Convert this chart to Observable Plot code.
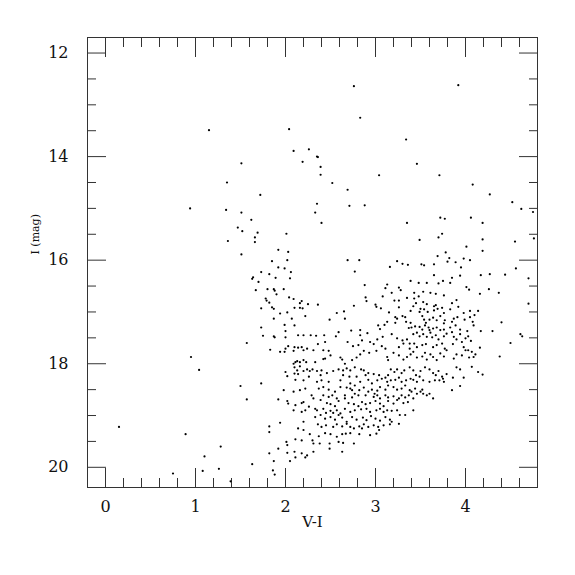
<!DOCTYPE html>
<html><head><meta charset="utf-8">
<script src="https://cdn.jsdelivr.net/npm/d3@7"></script>
<script src="https://cdn.jsdelivr.net/npm/@observablehq/plot@0.6"></script>
<style>body{margin:0;background:#fff;}</style>
</head><body><div id="chart"></div>
<script>
// [V-I, I] pairs
const brightStars = [[1.15,13.49],[1.51,14.13],[1.35,14.50],[2.76,12.64],[2.83,13.25],[2.04,13.47],[3.34,13.67],[2.09,13.89],[2.26,13.86],[2.35,14.00],[2.36,14.01],[2.19,14.10],[2.39,14.20],[2.39,14.35],[3.04,14.36],[2.52,14.51],[2.69,14.64],[3.92,12.62],[3.46,14.14],[3.71,14.36],[4.08,14.54],[0.94,15.00],[1.34,15.03],[1.51,15.08],[1.47,15.37],[1.52,15.44],[1.36,15.63],[1.51,15.89]];
const upperBranch = [[1.72,14.74],[2.35,14.91],[2.71,14.95],[2.88,14.94],[2.33,15.08],[2.40,15.28],[3.35,15.28],[1.62,15.22],[1.69,15.47],[2.01,15.49],[1.66,15.56],[1.66,15.65],[1.92,15.80],[2.03,15.84],[1.85,16.02],[2.02,16.00],[2.69,16.00],[2.82,16.00],[1.92,16.14],[1.99,16.16],[2.06,16.23],[1.73,16.23],[1.82,16.27],[2.77,16.22],[1.89,16.34],[2.05,16.35],[1.64,16.33],[1.63,16.36],[3.24,16.02],[3.30,16.07],[3.36,16.09],[3.16,16.13],
[4.27,14.73],[4.52,14.88],[4.62,15.01],[4.75,15.07],[3.72,15.18],[3.77,15.20],[4.06,15.18],[4.19,15.28],[3.74,15.49],[3.70,15.56],[3.49,15.61],[4.19,15.60],[4.55,15.64],[4.76,15.58],[4.01,15.74],[4.19,15.82],[3.78,15.85],[3.69,15.92],[3.82,15.96],[3.98,15.97],[4.05,16.00],[3.80,16.03],[3.89,16.04],[3.65,16.08],[3.51,16.08],[3.54,16.10],[3.95,16.14],[4.56,16.16],[3.65,16.29],[3.94,16.30],[4.17,16.29],[4.27,16.27],[4.44,16.28],[4.70,16.35],[3.85,16.34]];
const redEdge = [[4.26,16.56],[4.37,16.63],[4.70,16.84],[4.40,17.20],[4.30,17.37],[4.61,17.43],[4.63,17.47],[4.17,17.37],[4.50,17.60],[4.38,17.86],[4.19,18.21]];
const blueEdge = [[1.70,16.42],[1.67,16.58],[1.80,16.56],[1.78,16.74],[1.79,16.78],[1.82,16.82],[1.73,16.93],[1.73,17.30],[1.75,17.46],[1.57,17.60],[0.95,17.87],[1.04,18.12],[1.50,18.43],[1.73,18.38],[1.57,18.69],[0.15,19.22],[0.89,19.36],[1.28,19.60],[1.10,19.79],[1.26,20.03],[1.08,20.07],[0.75,20.12],[1.39,20.27],[1.82,19.21],[1.82,19.32],[1.82,19.73],[1.63,19.94],[1.87,19.88],[1.86,20.06],[1.88,20.14],[2.05,19.88]];
const upperCloud = [[1.87,16.56],[1.88,16.59],[1.90,16.66],[1.98,16.56],[2.88,16.48],[1.85,16.91],[1.87,16.94],[2.04,16.72],[2.09,16.75],[2.18,16.79],[2.16,16.83],[2.25,16.85],[2.36,16.86],[2.10,16.92],[2.16,16.92],[2.19,16.93],[2.02,17.01],[1.94,17.03],[2.22,17.08],[1.87,17.13],[2.07,17.13],[1.99,17.25],[2.10,17.26],[1.87,17.47],[1.88,17.49],[2.00,17.37],[2.00,17.49],[2.14,17.45],[2.20,17.45],[2.28,17.45],[2.34,17.46],[2.43,17.45],[2.76,16.88],[2.89,16.72],[2.90,16.79],[2.65,16.99],[2.57,17.02],[2.66,17.13],[2.49,17.15],[2.59,17.39],[2.56,17.47],[2.73,17.36],[2.83,17.35],[2.83,17.45],[2.91,17.41],[3.00,16.86],[3.01,16.90],[3.06,16.93],[3.08,16.70],[3.11,16.54],[3.13,16.47],[3.26,16.53],[3.28,16.58],[3.18,16.63],[3.35,16.73],[3.21,16.78],[3.26,16.78],[3.15,17.01],[3.26,16.91],[3.22,17.10],[3.24,17.13],[3.30,17.08],[3.33,17.10],[3.13,17.19],[3.03,17.26],[3.05,17.33],[3.10,17.25],[3.22,17.21],[3.34,17.19],[3.37,17.31],[3.18,17.43],[3.08,17.48]];
const redClump = [[3.39,16.40],[3.48,16.44],[3.57,16.44],[3.70,16.45],[3.75,16.40],[3.83,16.44],[4.01,16.52],[4.04,16.57],[3.43,16.63],[3.48,16.70],[3.53,16.61],[3.61,16.63],[3.67,16.65],[3.76,16.68],[4.16,16.65],
[3.43,16.74],[3.45,16.83],[3.53,16.81],[3.57,16.85],[3.67,16.87],[3.65,16.89],[3.74,16.92],[3.85,16.83],[3.90,16.77],[3.39,16.98],[3.42,16.89],[3.50,16.94],[3.54,16.95],[3.58,17.00],[3.49,17.00],[3.65,16.97],[3.69,16.94],[3.76,17.02],[3.83,16.95],[3.92,16.90],[3.98,17.02],[4.05,16.98],[4.10,17.06],[4.14,16.98],
[3.39,17.21],[3.52,17.08],[3.54,17.15],[3.56,17.21],[3.60,17.15],[3.64,17.11],[3.68,17.16],[3.72,17.08],[3.76,17.22],[3.77,17.16],[3.85,17.19],[3.87,17.13],[3.91,17.10],[3.99,17.15],[4.05,17.10],[4.08,17.19],[3.40,17.30],[3.44,17.28],[3.49,17.29],[3.52,17.34],[3.55,17.26],[3.59,17.30],[3.60,17.35],[3.64,17.32],[3.68,17.30],[3.72,17.35],[3.76,17.34],[3.83,17.30],[3.89,17.26],[3.94,17.34],[4.02,17.37],[4.09,17.26],
[3.42,17.43],[3.46,17.40],[3.49,17.47],[3.53,17.43],[3.57,17.48],[3.61,17.40],[3.63,17.49],[3.67,17.45],[3.70,17.53],[3.76,17.47],[3.79,17.42],[3.85,17.39],[3.87,17.48],[3.90,17.53],[3.94,17.43],[3.96,17.58],[4.00,17.51],[4.03,17.47],[4.06,17.56],[3.26,17.68],[3.38,17.71],[3.43,17.61],[3.46,17.68],[3.52,17.64],[3.56,17.62],[3.64,17.68],[3.68,17.64],[3.74,17.61],[3.77,17.71],[3.86,17.62],[3.98,17.68],[4.03,17.74],[4.07,17.77],[4.11,17.82],[4.16,17.69]];
const mainCloud = [[2.44,17.58],[2.36,17.62],[2.69,17.58],[2.75,17.66],[2.81,17.64],[2.85,17.55],[2.94,17.58],[2.98,17.62],[3.02,17.53],[3.24,17.51],[3.30,17.55],[3.31,17.61],[3.35,17.53],[3.38,17.61],
[1.83,17.73],[1.94,17.77],[1.99,17.77],[2.00,17.71],[2.03,17.66],[2.09,17.75],[2.10,17.68],[2.14,17.69],[2.18,17.68],[2.20,17.74],[2.24,17.71],[2.31,17.74],[2.42,17.74],[2.48,17.75],[2.50,17.84],[2.44,17.90],[2.09,18.00],[2.11,17.97],[2.13,17.95],[2.16,17.97],[2.20,17.93],[2.23,17.97],[2.33,17.97],[2.42,17.91],[2.61,17.88],[2.63,17.92],[2.66,18.00],[2.74,17.93],[2.79,17.88],[2.83,17.82],[2.87,17.75],[2.93,17.79],[3.01,17.75],[3.07,17.66],[3.11,17.71],[3.13,17.87],[3.14,17.93],[3.20,17.79],[3.26,17.84],[3.31,17.92],[3.35,17.87],[3.39,17.82],[3.42,17.77],[3.46,17.88],[3.52,17.86],[3.55,17.79],[3.57,17.92],[3.61,17.82],[3.64,17.87],[3.68,17.93],[3.72,17.80],[3.76,17.86],[3.79,17.74],[3.87,17.90],[3.90,17.82],[3.96,17.84],[4.00,17.74],[4.04,17.88],[4.09,17.87],
[2.10,18.07],[2.13,18.13],[2.16,18.05],[2.00,18.16],[2.02,18.24],[2.10,18.19],[2.14,18.20],[2.20,18.14],[2.24,18.11],[2.27,18.14],[2.30,18.11],[2.35,18.14],[2.40,18.13],[2.39,18.22],[2.46,18.18],[2.53,18.14],[2.59,18.11],[2.64,18.13],[2.68,18.09],[2.72,18.13],[2.77,18.07],[2.84,18.11],[2.87,18.13],[2.64,18.22],[2.71,18.25],[2.79,18.25],[2.89,18.22],[2.92,18.18],[2.98,18.20],[3.04,18.22],[3.11,18.27],[3.14,18.22],[3.17,18.11],[3.21,18.16],[3.24,18.11],[3.29,18.18],[3.32,18.13],[3.38,18.07],[3.42,18.13],[3.45,18.22],[3.50,18.14],[3.55,18.07],[3.60,18.11],[3.64,18.18],[3.67,18.22],[3.70,18.14],[3.74,18.25],[3.75,18.29],[3.79,18.20],[3.86,18.27],[3.90,18.07],[3.94,18.11],[3.98,18.27],[4.07,18.06],[4.14,18.16],
[2.11,18.31],[2.20,18.32],[2.26,18.25],[2.35,18.35],[2.40,18.32],[2.48,18.35],[2.61,18.32],[2.72,18.38],[2.77,18.42],[2.83,18.35],[2.92,18.31],[2.96,18.38],[3.02,18.32],[3.07,18.29],[3.13,18.35],[3.17,18.32],[3.22,18.31],[3.26,18.27],[3.29,18.35],[3.34,18.32],[3.39,18.29],[3.42,18.31],[3.46,18.35],[3.49,18.25],[3.53,18.32],[3.60,18.35],[3.66,18.32],[3.71,18.32],[3.76,18.35],[3.85,18.51],[3.94,18.43],
[1.98,18.51],[2.09,18.54],[2.16,18.51],[2.22,18.48],[2.29,18.61],[2.37,18.48],[2.42,18.45],[2.48,18.50],[2.55,18.54],[2.61,18.45],[2.68,18.46],[2.72,18.48],[2.74,18.51],[2.77,18.58],[2.82,18.51],[2.87,18.46],[2.92,18.54],[2.96,18.50],[2.99,18.58],[3.02,18.52],[3.05,18.45],[3.11,18.50],[3.14,18.42],[3.20,18.45],[3.24,18.50],[3.29,18.48],[3.33,18.42],[3.38,18.51],[3.40,18.54],[3.44,18.48],[3.46,18.58],[3.50,18.54],[3.52,18.50],[3.53,18.58],[3.57,18.61],[3.60,18.58],[3.64,18.67],
[2.42,18.61],[2.48,18.64],[2.52,18.61],[2.57,18.67],[2.66,18.61],[2.74,18.65],[2.81,18.61],[2.89,18.61],[2.98,18.64],[3.02,18.61],[3.05,18.67],[3.11,18.61],[3.14,18.65],[3.20,18.63],[3.26,18.67],[3.29,18.61],[3.33,18.65],[3.37,18.61],
[1.92,18.69],[2.02,18.72],[2.03,18.77],[2.11,18.80],[2.18,18.76],[2.20,18.74],[2.31,18.67],[2.39,18.70],[2.46,18.76],[2.50,18.78],[2.55,18.82],[2.59,18.72],[2.66,18.67],[2.70,18.76],[2.76,18.78],[2.81,18.82],[2.85,18.74],[2.89,18.78],[2.94,18.76],[3.00,18.72],[3.05,18.77],[3.09,18.82],[3.14,18.72],[3.20,18.77],[3.24,18.70],[3.31,18.76],[3.36,18.74],[3.42,18.67],
[2.09,18.90],[2.18,18.93],[2.22,18.90],[2.26,18.83],[2.33,18.87],[2.35,18.90],[2.42,18.87],[2.45,18.95],[2.50,18.91],[2.53,18.95],[2.57,18.90],[2.61,18.96],[2.66,18.87],[2.72,18.93],[2.77,18.90],[2.84,18.88],[2.90,18.87],[2.94,18.93],[3.01,18.90],[3.05,18.87],[3.09,18.93],[3.13,18.90],[3.18,18.91],[3.24,18.90],[3.27,18.99],[3.42,18.90],
[2.33,19.03],[2.39,18.99],[2.44,19.06],[2.50,19.03],[2.55,19.08],[2.59,18.99],[2.63,19.04],[2.68,19.12],[2.74,19.03],[2.79,19.08],[2.86,19.04],[2.90,19.09],[2.95,19.01],[3.00,19.06],[3.05,19.10],[3.11,19.03],[3.16,19.08],[3.18,19.12],[3.26,19.16],[3.33,18.99],
[1.94,19.14],[2.20,19.12],[2.36,19.17],[2.40,19.22],[2.45,19.19],[2.53,19.22],[2.57,19.17],[2.63,19.21],[2.68,19.16],[2.72,19.22],[2.76,19.25],[2.82,19.21],[2.85,19.25],[2.87,19.17],[2.92,19.22],[2.98,19.19],[3.03,19.22],[3.09,19.19],[3.16,19.17],[2.14,19.25],[2.20,19.28],
[2.27,19.36],[2.37,19.40],[2.44,19.34],[2.50,19.36],[2.57,19.41],[2.63,19.36],[2.67,19.35],[2.72,19.34],[2.82,19.36],[2.94,19.38],[3.01,19.35],[3.04,19.28],
[2.01,19.51],[2.02,19.57],[2.11,19.46],[2.18,19.48],[2.30,19.48],[2.31,19.54],[2.38,19.54],[2.49,19.54],[2.59,19.51],[2.64,19.53],[2.76,19.54],
[1.92,19.64],[2.10,19.70],[2.18,19.73],[2.24,19.77],[2.31,19.70],[2.49,19.64],[2.63,19.70],[2.22,19.81],[2.11,19.81],[2.02,19.72]];

const xMajor = [0, 1, 2, 3, 4];
const xMinor = [0.2,0.4,0.6,0.8,1.2,1.4,1.6,1.8,2.2,2.4,2.6,2.8,3.2,3.4,3.6,3.8,4.2,4.4,4.6];
const yMajor = [12, 14, 16, 18, 20];
const yMinor = [12.5,13,13.5,14.5,15,15.5,16.5,17,17.5,18.5,19,19.5];

const stars = [...brightStars, ...upperBranch, ...redEdge, ...blueEdge, ...upperCloud, ...redClump, ...mainCloud]
  .map(([vi, imag]) => ({vi, imag}));

const ax = "#333";
const font = "'DejaVu Serif', 'Liberation Serif', serif";
const chart = Plot.plot({
  width: 575, height: 575,
  marginLeft: 87, marginRight: 38, marginTop: 37, marginBottom: 88,
  style: {fontFamily: font, background: "#fff", color: "#111"},
  x: {domain: [-0.2, 4.8]},
  y: {domain: [20.39, 11.7]},
  marks: [
    Plot.frame({stroke: ax, strokeWidth: 1}),
    Plot.axisX(xMajor, {anchor: "bottom", tickSize: -19, fill: "none", stroke: ax}),
    Plot.axisX(xMinor, {anchor: "bottom", tickSize: -9, fill: "none", stroke: ax}),
    Plot.axisX(xMajor, {anchor: "top", tickSize: -19, fill: "none", stroke: ax}),
    Plot.axisX(xMinor, {anchor: "top", tickSize: -9, fill: "none", stroke: ax}),
    Plot.axisY(yMajor, {anchor: "left", tickSize: -19, fill: "none", stroke: ax}),
    Plot.axisY(yMinor, {anchor: "left", tickSize: -9, fill: "none", stroke: ax}),
    Plot.axisY(yMajor, {anchor: "right", tickSize: -19, fill: "none", stroke: ax}),
    Plot.axisY(yMinor, {anchor: "right", tickSize: -9, fill: "none", stroke: ax}),
    Plot.axisX(xMajor, {anchor: "bottom", tickSize: 0, tickPadding: 13, tickFormat: "d", fontSize: 16, fontFamily: font, label: null, fill: "#111"}),
    Plot.axisY(yMajor, {anchor: "left", tickSize: 0, tickPadding: 19, tickFormat: "d", fontSize: 16, fontFamily: font, label: null, fill: "#111"}),
    Plot.text(["V-I"], {frameAnchor: "bottom", dy: 39, fontSize: 15, fontFamily: font, fill: "#111"}),
    Plot.text(["I (mag)"], {frameAnchor: "left", dx: -52, dy: -8, rotate: -90, fontSize: 11, fontFamily: font, fill: "#111"}),
    Plot.dot(stars, {x: "vi", y: "imag", r: 1.1, fill: "#000", stroke: "none"})
  ]
});
document.getElementById("chart").appendChild(chart);
</script>
</body></html>
